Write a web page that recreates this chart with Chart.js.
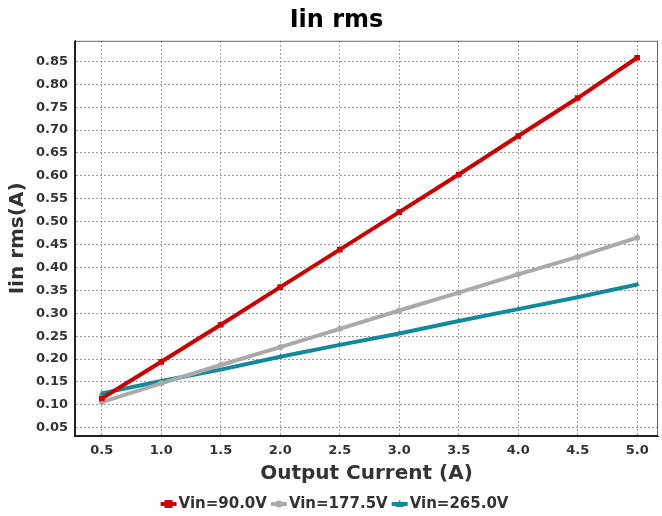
<!DOCTYPE html>
<html><head><meta charset="utf-8">
<script src="https://cdn.jsdelivr.net/npm/chart.js@4.4.0/dist/chart.umd.min.js"></script>
<style>html,body{margin:0;padding:0;background:#fff}#wrap{width:662px;height:516px}</style>
</head><body><div id="wrap"><canvas id="c" width="662" height="516"></canvas></div>
<script>
const xValues = [0.5, 1.0, 1.5, 2.0, 2.5, 3.0, 3.5, 4.0, 4.5, 5.0];
const vin90 = [0.114, 0.194, 0.275, 0.357, 0.439, 0.521, 0.603, 0.687, 0.770, 0.858];
const vin177 = [0.106, 0.147, 0.187, 0.226, 0.266, 0.306, 0.345, 0.385, 0.423, 0.465];
const vin265 = [0.125, 0.152, 0.177, 0.205, 0.231, 0.256, 0.283, 0.309, 0.335, 0.363];
const seriesNames = ['Vin=90.0V', 'Vin=177.5V', 'Vin=265.0V'];
const xTicks = [0.5, 1.0, 1.5, 2.0, 2.5, 3.0, 3.5, 4.0, 4.5, 5.0];
const yTicks = [0.05,0.10,0.15,0.20,0.25,0.30,0.35,0.40,0.45,0.50,0.55,0.60,0.65,0.70,0.75,0.80,0.85];

const colors = ['#cc0000', '#aaaaaa', '#138a9c'];
const styles = ['rect', 'circle', 'triangle'];
const FONT = "'DejaVu Sans', sans-serif";

const allSeries = [vin90, vin177, vin265];
const datasets = allSeries.map((vals, i) => ({
  label: seriesNames[i],
  data: xValues.map((x, j) => ({ x: x, y: vals[j] })),
  borderColor: colors[i],
  backgroundColor: colors[i],
  borderWidth: 4,
  pointStyle: styles[i],
  pointRadius: i === 0 ? 4 : 3,
  pointBorderWidth: 0,
  pointBackgroundColor: colors[i],
  fill: false,
  tension: 0
}));

const frame = {
  id: 'frame',
  afterLayout(chart) {
    if (chart.titleBlock) { chart.titleBlock.left += 6; chart.titleBlock.right += 6; }
  },
  afterDraw(chart) {
    const a = chart.chartArea, ctx = chart.ctx;
    ctx.save();
    ctx.setLineDash([]);
    ctx.strokeStyle = '#666';
    ctx.lineWidth = 1;
    ctx.beginPath();
    ctx.moveTo(a.left, a.top + 0.5); ctx.lineTo(a.right, a.top + 0.5);
    ctx.moveTo(a.right - 0.5, a.top); ctx.lineTo(a.right - 0.5, a.bottom);
    ctx.stroke();
    ctx.strokeStyle = '#222';
    ctx.lineWidth = 2;
    ctx.beginPath();
    ctx.moveTo(a.left, a.top); ctx.lineTo(a.left, a.bottom); ctx.lineTo(a.right, a.bottom);
    ctx.stroke();
    ctx.restore();
  }
};

// legend drawn in a row under the x-axis title: icon (line + marker) then label
const lineLegend = {
  id: 'lineLegend',
  afterDraw(chart) {
    const ctx = chart.ctx;
    ctx.save();
    ctx.font = "bold 15px " + FONT;
    ctx.textBaseline = 'middle';
    const iconW = 16, gapIcon = 2, gapItem = 4;
    const widths = chart.data.datasets.map(d => ctx.measureText(d.label).width);
    const total = widths.reduce((s, w) => s + iconW + gapIcon + w, 0) + gapItem * (widths.length - 1);
    let x = 334.5 - total / 2;
    const y = 504;
    chart.data.datasets.forEach((d, i) => {
      const col = d.borderColor;
      ctx.strokeStyle = col; ctx.fillStyle = col; ctx.lineWidth = 4; ctx.setLineDash([]);
      ctx.beginPath(); ctx.moveTo(x, y); ctx.lineTo(x + iconW, y); ctx.stroke();
      const cx = x + iconW / 2;
      if (d.pointStyle === 'rect') ctx.fillRect(cx - 4, y - 4, 8, 8);
      else if (d.pointStyle === 'circle') { ctx.beginPath(); ctx.arc(cx, y, 3.5, 0, Math.PI * 2); ctx.fill(); }
      else { ctx.beginPath(); ctx.moveTo(cx, y - 4); ctx.lineTo(cx + 4, y + 3); ctx.lineTo(cx - 4, y + 3); ctx.closePath(); ctx.fill(); }
      x += iconW + gapIcon;
      ctx.fillStyle = '#333';
      ctx.fillText(d.label, x, y + 0.5);
      x += widths[i] + gapItem;
    });
    ctx.restore();
  }
};

new Chart(document.getElementById('c'), {
  type: 'line',
  data: { datasets },
  plugins: [frame, lineLegend],
  options: {
    responsive: false,
    animation: false,
    layout: { padding: { left: 0, right: 1, top: 0, bottom: 28 } },
    plugins: {
      title: {
        display: true, text: 'Iin rms', color: '#000',
        font: { family: FONT, size: 24, weight: 'bold' },
        padding: { top: 6, bottom: 6 }
      },
      legend: { display: false },
      tooltip: { enabled: false }
    },
    scales: {
      x: {
        type: 'linear', min: 0.275, max: 5.175,
        afterBuildTicks: (s) => { s.ticks = xTicks.map(v => ({ value: v })); },
        afterFit: (s) => { s.height = 52; },
        ticks: {
          color: '#333', font: { family: FONT, size: 13, weight: 'bold' },
          callback: (v) => Number(v).toFixed(1), padding: 7, maxRotation: 0
        },
        grid: { color: '#9a9a9a', lineWidth: 1, drawTicks: false },
        border: { display: true, color: '#333', dash: [2, 2] },
        title: {
          display: true, text: 'Output Current (A)', color: '#333',
          font: { family: FONT, size: 20, weight: 'bold' }, padding: { top: 2, bottom: 2 }
        }
      },
      y: {
        type: 'linear', min: 0.032, max: 0.895,
        afterBuildTicks: (s) => { s.ticks = yTicks.map(v => ({ value: v })); },
        afterFit: (s) => { s.width = 75; },
        ticks: {
          color: '#333', font: { family: FONT, size: 13, weight: 'bold' },
          callback: (v) => Number(v).toFixed(2), padding: 7
        },
        grid: { color: '#9a9a9a', lineWidth: 1, drawTicks: false },
        border: { display: true, color: '#333', dash: [2, 2] },
        title: {
          display: true, text: 'Iin rms(A)', color: '#333',
          font: { family: FONT, size: 20, weight: 'bold' }, padding: { top: 6, bottom: 0 }
        }
      }
    }
  }
});
</script></body></html>
